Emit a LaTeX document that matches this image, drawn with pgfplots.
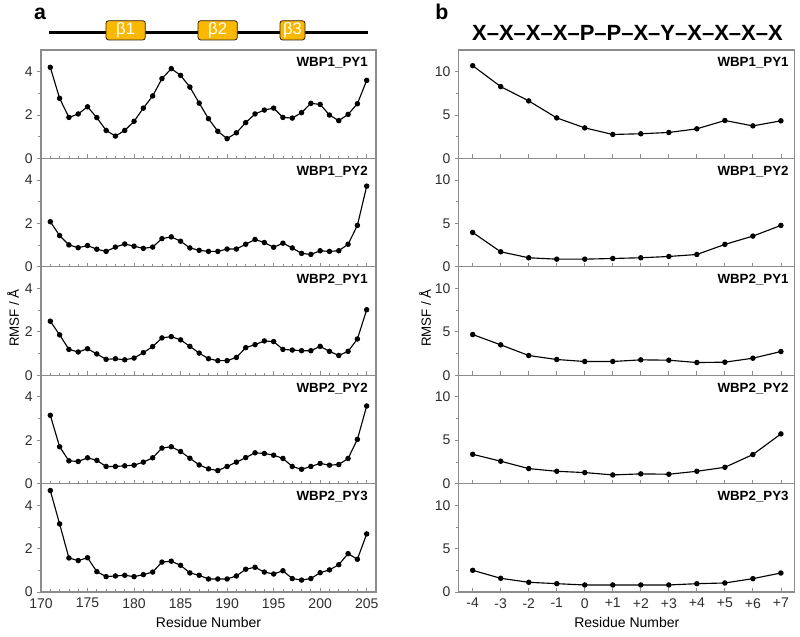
\documentclass[border=0pt]{standalone}
\usepackage{fontspec}
\setmainfont{Liberation Sans}
\usepackage{pgfplots}
\pgfplotsset{compat=1.18}
\definecolor{frame}{RGB}{140,140,140}
\definecolor{ticktext}{RGB}{45,45,45}
\definecolor{betaY}{RGB}{250,184,0}

\tikzset{pname/.style={anchor=north east, inner sep=0pt, font=\fontsize{10}{12}\selectfont\bfseries}}
\pgfplotsset{
  base/.style={scale only axis, anchor=south west, clip=false,
    axis line style={frame, line width=0.8pt},
    every tick/.style={frame, line width=0.6pt},
    major tick length=3pt, minor tick length=2pt,
    tick label style={font=\fontsize{10.5}{11}\selectfont, text=ticktext, inner sep=0pt},
    xticklabel style={yshift=-4.5pt},
    yticklabel style={xshift=-3pt},
    /pgf/number format/assume math mode=true,
    xtick pos=bottom, ytick pos=left,
    ytick align=outside, xtick align=inside,
    xticklabels={}},
  lft/.style={base, width=251.25pt, height=81.3pt, xmin=170, xmax=206, ymin=0, ymax=5,
    xtick={170,175,...,205}, minor x tick num=4, ytick={0,2,4}, minor y tick num=1},
  rgt/.style={base, width=252.2pt, height=81.3pt, xmin=-4.5, xmax=7.5, ymin=0, ymax=12.5,
    xtick={-4,...,7}, ytick={0,5,10}, minor y tick num=1},
  bot/.style={xlabel={Residue Number}, xlabel style={font=\fontsize{10.5}{12}\selectfont, yshift=-3.5pt}},
  ser/.style={black, line width=0.85pt, mark=*, mark size=1.6pt, mark options={solid}},
}

\begin{document}
\begin{tikzpicture}
\useasboundingbox (0,0) rectangle (600pt,477pt);

% ---------------- left column ----------------
\begin{axis}[lft, at={(30.75pt,358.2pt)}]
\addplot[ser] coordinates {(171,4.20)(172,2.77)(173,1.89)(174,2.05)(175,2.38)(176,1.88)(177,1.29)(178,1.03)(179,1.29)(180,1.71)(181,2.32)(182,2.88)(183,3.68)(184,4.14)(185,3.83)(186,3.29)(187,2.55)(188,1.83)(189,1.25)(190,0.91)(191,1.18)(192,1.65)(193,2.05)(194,2.23)(195,2.32)(196,1.89)(197,1.86)(198,2.11)(199,2.54)(200,2.49)(201,2.00)(202,1.74)(203,2.03)(204,2.52)(205,3.60)};
\node[pname] at ([xshift=-6pt,yshift=-5.5pt]rel axis cs:1,1) {WBP1\_PY1};
\end{axis}

\begin{axis}[lft, at={(30.75pt,276.9pt)}]
\addplot[ser] coordinates {(171,2.08)(172,1.44)(173,1.01)(174,0.88)(175,0.98)(176,0.81)(177,0.71)(178,0.91)(179,1.05)(180,0.95)(181,0.85)(182,0.91)(183,1.30)(184,1.38)(185,1.18)(186,0.87)(187,0.76)(188,0.71)(189,0.71)(190,0.82)(191,0.82)(192,1.04)(193,1.26)(194,1.12)(195,0.90)(196,1.09)(197,0.87)(198,0.62)(199,0.57)(200,0.74)(201,0.71)(202,0.74)(203,1.04)(204,1.91)(205,3.72)};
\node[pname] at ([xshift=-6pt,yshift=-5.5pt]rel axis cs:1,1) {WBP1\_PY2};
\end{axis}

\begin{axis}[lft, at={(30.75pt,195.6pt)}]
\addplot[ser] coordinates {(171,2.49)(172,1.86)(173,1.19)(174,1.07)(175,1.22)(176,0.98)(177,0.73)(178,0.76)(179,0.71)(180,0.79)(181,1.04)(182,1.32)(183,1.72)(184,1.78)(185,1.63)(186,1.33)(187,1.02)(188,0.76)(189,0.67)(190,0.67)(191,0.82)(192,1.27)(193,1.41)(194,1.58)(195,1.55)(196,1.19)(197,1.16)(198,1.13)(199,1.13)(200,1.33)(201,1.10)(202,0.91)(203,1.10)(204,1.67)(205,3.02)};
\node[pname] at ([xshift=-6pt,yshift=-5.5pt]rel axis cs:1,1) {WBP2\_PY1};
\end{axis}

\begin{axis}[lft, at={(30.75pt,114.3pt)}]
\addplot[ser] coordinates {(171,3.15)(172,1.70)(173,1.05)(174,1.02)(175,1.19)(176,1.07)(177,0.79)(178,0.79)(179,0.82)(180,0.85)(181,0.99)(182,1.19)(183,1.64)(184,1.70)(185,1.48)(186,1.17)(187,0.86)(188,0.68)(189,0.60)(190,0.79)(191,0.99)(192,1.20)(193,1.42)(194,1.39)(195,1.31)(196,1.16)(197,0.79)(198,0.66)(199,0.79)(200,0.93)(201,0.85)(202,0.88)(203,1.16)(204,2.04)(205,3.58)};
\node[pname] at ([xshift=-6pt,yshift=-5.5pt]rel axis cs:1,1) {WBP2\_PY2};
\end{axis}

\begin{axis}[lft, bot, at={(30.75pt,33pt)}, xticklabels={170,175,180,185,190,195,200,205}]
\addplot[ser] coordinates {(171,4.68)(172,3.14)(173,1.57)(174,1.45)(175,1.58)(176,0.94)(177,0.71)(178,0.74)(179,0.77)(180,0.71)(181,0.80)(182,0.92)(183,1.38)(184,1.42)(185,1.23)(186,0.88)(187,0.77)(188,0.60)(189,0.60)(190,0.60)(191,0.74)(192,1.05)(193,1.14)(194,0.92)(195,0.83)(196,0.98)(197,0.62)(198,0.55)(199,0.62)(200,0.89)(201,1.02)(202,1.26)(203,1.77)(204,1.51)(205,2.68)};
\node[pname] at ([xshift=-6pt,yshift=-5.5pt]rel axis cs:1,1) {WBP2\_PY3};
\end{axis}

% ---------------- right column ----------------
\begin{axis}[rgt, at={(344pt,358.2pt)}]
\addplot[ser] coordinates {(-4,10.69)(-3,8.28)(-2,6.63)(-1,4.67)(0,3.52)(1,2.76)(2,2.84)(3,2.99)(4,3.41)(5,4.37)(6,3.75)(7,4.33)};
\node[pname] at ([xshift=-4.5pt,yshift=-5.5pt]rel axis cs:1,1) {WBP1\_PY1};
\end{axis}

\begin{axis}[rgt, at={(344pt,276.9pt)}]
\addplot[ser] coordinates {(-4,3.96)(-3,1.73)(-2,1.04)(-1,0.88)(0,0.88)(1,0.96)(2,1.04)(3,1.19)(4,1.42)(5,2.58)(6,3.54)(7,4.77)};
\node[pname] at ([xshift=-4.5pt,yshift=-5.5pt]rel axis cs:1,1) {WBP1\_PY2};
\end{axis}

\begin{axis}[rgt, at={(344pt,195.6pt)}]
\addplot[ser] coordinates {(-4,4.69)(-3,3.50)(-2,2.27)(-1,1.81)(0,1.58)(1,1.58)(2,1.77)(3,1.73)(4,1.46)(5,1.50)(6,1.96)(7,2.73)};
\node[pname] at ([xshift=-4.5pt,yshift=-5.5pt]rel axis cs:1,1) {WBP2\_PY1};
\end{axis}

\begin{axis}[rgt, at={(344pt,114.3pt)}]
\addplot[ser] coordinates {(-4,3.38)(-3,2.58)(-2,1.73)(-1,1.42)(0,1.27)(1,1.00)(2,1.12)(3,1.08)(4,1.42)(5,1.88)(6,3.35)(7,5.73)};
\node[pname] at ([xshift=-4.5pt,yshift=-5.5pt]rel axis cs:1,1) {WBP2\_PY2};
\end{axis}

\begin{axis}[rgt, bot, at={(344pt,33pt)}, xticklabels={-4,-3,-2,-1,0,+1,+2,+3,+4,+5,+6,+7}]
\addplot[ser] coordinates {(-4,2.50)(-3,1.58)(-2,1.12)(-1,0.96)(0,0.81)(1,0.81)(2,0.81)(3,0.81)(4,0.96)(5,1.04)(6,1.54)(7,2.19)};
\node[pname] at ([xshift=-4.5pt,yshift=-5.5pt]rel axis cs:1,1) {WBP2\_PY3};
\end{axis}

% ---------------- decorations ----------------
\node[rotate=90, font=\fontsize{10}{12}\selectfont] at (9.75pt,238.5pt) {RMSF / Å};
\node[rotate=90, font=\fontsize{10}{12}\selectfont] at (318.75pt,238.5pt) {RMSF / Å};

\node[anchor=base, font=\fontsize{16}{18}\selectfont\bfseries] at (30pt,462pt) {a};
\node[anchor=base, font=\fontsize{16}{18}\selectfont\bfseries] at (331.5pt,462pt) {b};
\node[font=\fontsize{16.5}{18}\selectfont\bfseries] at (470.6pt,452pt) {X–X–X–X–P–P–X–Y–X–X–X–X};

\draw[line width=2.2pt, black] (36.75pt,452.5pt) -- (275.8pt,452.5pt);
\foreach \a/\b/\t in {79.5/109/1, 148.5/178/2, 210/228.75/3}{
  \draw[fill=betaY, draw=black!75!brown, line width=0.6pt, rounded corners=2pt] (\a pt,447pt) rectangle (\b pt,461.5pt);
  \pgfmathsetmacro{\cx}{(\a+\b)/2}
  \node[text=white, font=\fontsize{12.5}{14}\selectfont] at (\cx pt,454.25pt) {β\t};
}
\end{tikzpicture}
\end{document}
